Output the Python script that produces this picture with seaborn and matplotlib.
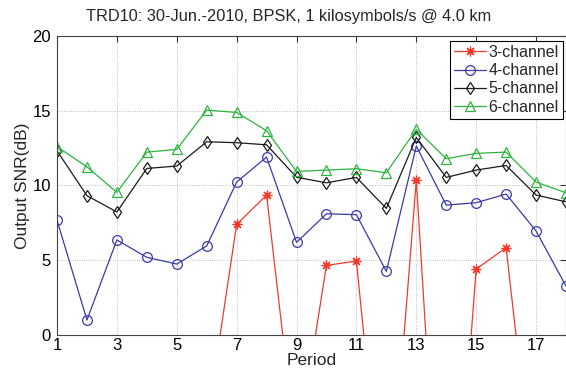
import matplotlib
matplotlib.use("Agg")
import matplotlib.pyplot as plt
import seaborn as sns
import pandas as pd

periods = list(range(1, 19))
snr_3ch = [-10, -10, -10, -10, -10, -6.0, 7.39, 9.35, -8.0, 4.65, 4.94, -15.0, 10.35, -22.0, 4.41, 5.83, -11.8, -10]
snr_4ch = [7.68, 1.0, 6.35, 5.19, 4.74, 5.95, 10.22, 11.89, 6.19, 8.10, 8.04, 4.25, 12.63, 8.68, 8.84, 9.42, 6.95, 3.27]
snr_5ch = [12.31, 9.31, 8.22, 11.13, 11.29, 12.91, 12.85, 12.71, 10.54, 10.17, 10.53, 8.46, 13.2, 10.53, 11.02, 11.33, 9.35, 8.9]
snr_6ch = [12.58, 11.24, 9.53, 12.22, 12.4, 15.03, 14.87, 13.65, 10.93, 11.02, 11.11, 10.84, 13.74, 11.78, 12.14, 12.22, 10.22, 9.5]
series_names = ["3-channel", "4-channel", "5-channel", "6-channel"]
x_ticks = [1, 3, 5, 7, 9, 11, 13, 15, 17]
y_ticks = [0, 5, 10, 15, 20]

sns.set_theme(style="white")
plt.rcParams['font.family'] = ['Liberation Sans', 'DejaVu Sans']

fig = plt.figure(figsize=(5.66, 3.76), dpi=100)
ax = fig.add_axes([57 / 566, 1 - 335 / 376, (566 - 57) / 566, (335 - 35.7) / 376])

styles = [
    dict(color="#f23a2a", marker=(8, 2, 0), ms=7, mfc="#f23a2a", mec="#f23a2a"),
    dict(color="#3a3aa8", marker="o", ms=7, mfc="none", mec="#3a3aa8"),
    dict(color="#1a1a1a", marker="d", ms=6.5, mfc="none", mec="#1a1a1a"),
    dict(color="#2eb33e", marker="^", ms=7.5, mfc="none", mec="#2eb33e"),
]
for name, vals, st in zip(series_names, [snr_3ch, snr_4ch, snr_5ch, snr_6ch], styles):
    df = pd.DataFrame({"Period": periods, "SNR": vals})
    sns.lineplot(data=df, x="Period", y="SNR", ax=ax, label=name, lw=0.9,
                 mew=0.9, **st)

ax.set_xlim(1, 18)
ax.set_ylim(0, 20)
ax.set_xticks(x_ticks)
ax.set_yticks(y_ticks)
ax.grid(True, ls=":", lw=0.6, color="#b0b0b0")
ax.tick_params(direction="in", length=4, width=0.8, colors="#333333",
               labelcolor="black", labelsize=12, top=True, right=True)
ax.tick_params(axis="x", pad=2.5)
ax.tick_params(axis="y", pad=4.5)
for s in ax.spines.values():
    s.set_color("#444444")
    s.set_linewidth(0.8)

ax.set_xlabel("Period", fontsize=12.5, labelpad=0)
ax.set_ylabel("")
fig.text(23 / 566, 1 - 186 / 376, "Output SNR(dB)", rotation=90, ha="center", va="center", fontsize=12.5)
fig.text(289 / 566, 1 - 16 / 376, "TRD10: 30-Jun.-2010, BPSK, 1 kilosymbols/s @ 4.0 km",
         ha="center", va="center", fontsize=11.8)

leg = ax.legend(loc="upper right", bbox_to_anchor=(563 / 566, 1 - 41 / 376),
                bbox_transform=fig.transFigure, fancybox=False, framealpha=1,
                edgecolor="black", fontsize=11.5, handlelength=2.0, handletextpad=0.15,
                borderpad=0.25, labelspacing=0.2, borderaxespad=0)
leg.get_frame().set_linewidth(0.8)

fig.savefig("out.png", dpi=100)
